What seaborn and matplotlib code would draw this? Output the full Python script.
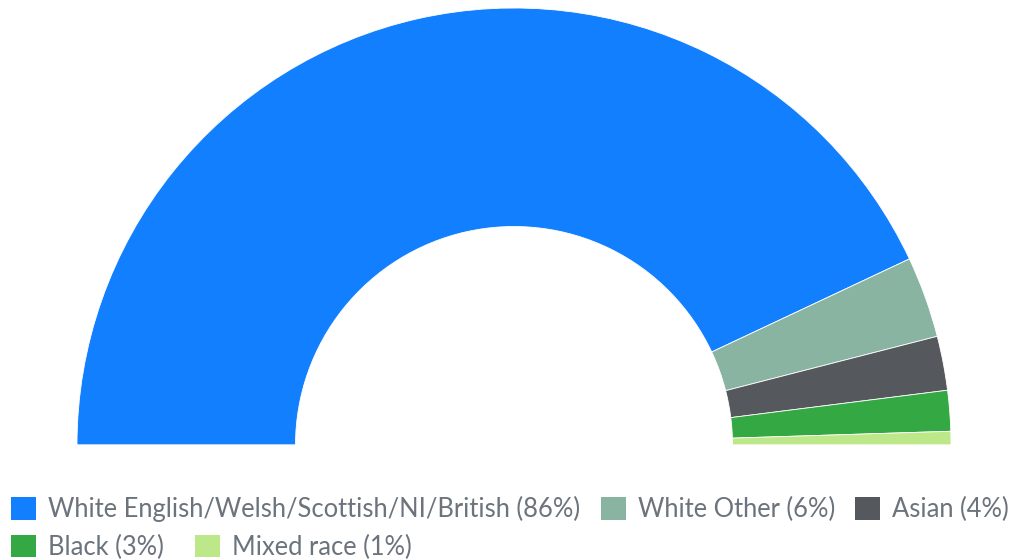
# Half donut of ethnic groups
import matplotlib
matplotlib.use("Agg")
import matplotlib.pyplot as plt
import matplotlib.patches as mpatches
import seaborn as sns

groups = ["White English/Welsh/Scottish/NI/British", "White Other", "Asian", "Black", "Mixed race"]
shares = [86, 6, 4, 3, 1]
colors = ["#127ffe", "#8ab4a2", "#55585d", "#33a843", "#bde88a"]
labels = [f"{g} ({s}%)" for g, s in zip(groups, shares)]

sns.set_theme(style="white")
plt.rcParams["font.family"] = ["Lato", "DejaVu Sans"]

W, H = 1013, 559
fig = plt.figure(figsize=(W / 100, H / 100), dpi=100)
ax = fig.add_axes([0, 0, 1, 1])

# centre of the donut in pixels (y measured from the bottom)
cx, cy, r = 514, H - 445, 437
# invisible second half so the visible slices fill a semicircle
vals = shares + [sum(shares)]
cols = colors + ["none"]
ax.pie(vals, colors=cols, startangle=180, counterclock=False, radius=r,
       center=(cx, cy), frame=True,
       wedgeprops=dict(width=r * 0.5, edgecolor="white", linewidth=0.6))
ax.set_xlim(0, W)
ax.set_ylim(0, H)
ax.set_aspect("equal")
ax.axis("off")

handles = [mpatches.Patch(facecolor=c, edgecolor="none") for c in colors]

fs = 18.4
kw = dict(frameon=False, fontsize=fs, labelcolor="#6b737c", handlelength=0.98,
          handleheight=0.98, handletextpad=0.47,
          borderaxespad=0, borderpad=0, loc="center left")
fig.legend(handles[:3], labels[:3], ncol=3, columnspacing=0.8,
           bbox_to_anchor=(11 / W, 1 - 509 / H), **kw)
fig.legend(handles[3:], labels[3:], ncol=2, columnspacing=1.22,
           bbox_to_anchor=(11 / W, 1 - 547 / H), **kw)

fig.savefig("out.png", dpi=100)
